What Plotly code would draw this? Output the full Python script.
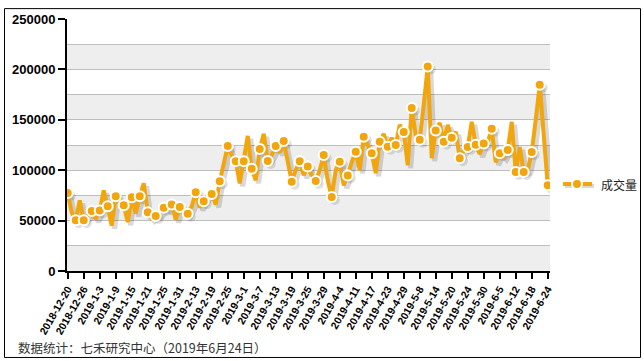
import pandas as pd
import plotly.graph_objects as go

# Trading days (Shanghai/Shenzhen calendar) between 2018-12-20 and 2019-06-24
holidays = ["2018-12-31", "2019-01-01", "2019-02-04", "2019-02-05", "2019-02-06",
            "2019-02-07", "2019-02-08", "2019-04-05", "2019-05-01", "2019-05-02",
            "2019-05-03", "2019-06-07"]
days = [d for d in pd.bdate_range("2018-12-20", "2019-06-24")
        if d.strftime("%Y-%m-%d") not in holidays]
dates = [f"{d.year}-{d.month}-{d.day}" for d in days]

volume = [
    77400, 58000, 50300, 70000, 50300, 55000, 59400, 51500, 60100, 80000,
    64300, 45000, 74200, 72000, 65300, 48500, 73200, 57000, 74200, 87000,
    58400, 52000, 54500, 57000, 62700, 61000, 66000, 51000, 63400, 60000,
    56800, 64000, 78100, 63000, 69200, 75000, 76400, 66000, 89000, 105000,
    124000, 115000, 109000, 87000, 109000, 134000, 101500, 90000, 121000, 136000,
    109200, 115000, 124000, 118000, 128900, 110000, 88600, 100000, 108800, 95000,
    103600, 95000, 89200, 100000, 115000, 90000, 73400, 100000, 108500, 85000,
    94800, 108000, 118400, 100000, 133100, 125000, 116700, 97000, 128200, 136000,
    123300, 132000, 125000, 145000, 138000, 105000, 161600, 135000, 130200, 165000,
    202800, 112000, 139300, 147000, 128200, 145000, 132100, 138000, 111800, 120000,
    123000, 148000, 125200, 116000, 126500, 128000, 141000, 108000, 116700, 113000,
    120000, 148000, 98300, 123000, 98300, 100000, 118000, 150000, 184800, 135000,
    85000,
]

series_name = "成交量"
tick_labels = dates[::4]
marker_dates = dates[::2]
marker_values = volume[::2]

y_max = 250000
y_major = 50000
y_minor = 25000

COLOR = "#F2A60D"
W, H = 644, 361
ML, MR, MT, MB = 67, 94, 16, 90
PW, PH = W - ML - MR, H - MT - MB

r0 = -0.18
r1 = r0 + PW / 4.0
xrange_main = [r0, r1]
# shadow offset: 3px right, 3px down
dx = 3 / (PW / (r1 - r0))
dy = 3 * y_max / PH

fig = go.Figure()

# invisible trace to set up the main axes
fig.add_trace(go.Scatter(x=dates, y=volume, mode="lines", line=dict(width=0),
                         hoverinfo="skip", showlegend=False, xaxis="x", yaxis="y"))

# shadow
fig.add_trace(go.Scatter(x=dates, y=volume, mode="lines",
                         line=dict(color="rgba(0,0,0,0.15)", width=5),
                         hoverinfo="skip", showlegend=False, xaxis="x2", yaxis="y2"))
fig.add_trace(go.Scatter(x=marker_dates, y=marker_values, mode="markers",
                         marker=dict(color="rgba(0,0,0,0.12)", size=10),
                         hoverinfo="skip", showlegend=False, xaxis="x2", yaxis="y2"))

# main line
fig.add_trace(go.Scatter(x=dates, y=volume, mode="lines", name=series_name,
                         line=dict(color=COLOR, width=4),
                         showlegend=False, xaxis="x3", yaxis="y3"))
fig.add_trace(go.Scatter(x=marker_dates, y=marker_values, mode="markers", name=series_name,
                         marker=dict(color=COLOR, size=10, line=dict(color="white", width=2)),
                         showlegend=False, xaxis="x3", yaxis="y3"))

# alternating bands
shapes = []
v = 0
k = 0
while v < y_max:
    if k % 2 == 0:
        shapes.append(dict(type="rect", xref="paper", yref="y", x0=0, x1=1,
                           y0=v, y1=v + y_minor, fillcolor="#EEEEEE",
                           line=dict(width=0), layer="below"))
    v += y_minor
    k += 1


def px_x(p):
    return (p - ML) / PW


def px_y(p):
    return (H - MB - p) / PH


# outer border
shapes.append(dict(type="rect", xref="paper", yref="paper",
                   x0=px_x(4.5), x1=px_x(640.5), y0=px_y(358.5), y1=px_y(5.5),
                   line=dict(color="black", width=1), fillcolor="rgba(0,0,0,0)"))

# legend key (line + marker) drawn in the right margin
LEG_Y = 183
shapes.append(dict(type="line", xref="paper", yref="paper",
                   x0=px_x(565), x1=px_x(594), y0=px_y(LEG_Y + 2), y1=px_y(LEG_Y + 2),
                   line=dict(color="rgba(0,0,0,0.15)", width=4)))
shapes.append(dict(type="line", xref="paper", yref="paper",
                   x0=px_x(563), x1=px_x(592), y0=px_y(LEG_Y), y1=px_y(LEG_Y),
                   line=dict(color=COLOR, width=4)))
shapes.append(dict(type="circle", xref="paper", yref="paper",
                   x0=px_x(572), x1=px_x(582), y0=px_y(LEG_Y + 5), y1=px_y(LEG_Y - 5),
                   fillcolor=COLOR, line=dict(color="white", width=2)))

tickfont_bold = dict(family="Liberation Sans, Arial, sans-serif", size=13,
                     color="black", weight="bold")

fig.update_layout(
    width=W, height=H,
    margin=dict(l=ML, r=MR, t=MT, b=MB),
    paper_bgcolor="white", plot_bgcolor="white",
    showlegend=False,
    shapes=shapes,
    xaxis=dict(type="category", range=xrange_main, showgrid=False,
               tickmode="array", tickvals=tick_labels, ticktext=tick_labels,
               tickangle=-60, ticks="outside", ticklen=6, tickwidth=2,
               tickcolor="black", showline=True, linecolor="black", linewidth=2,
               tickfont=dict(family="Liberation Sans, Arial, sans-serif", size=10.5,
                             color="black", weight="bold"),
               fixedrange=True),
    yaxis=dict(range=[0, y_max], dtick=y_major, tick0=0, showgrid=True,
               gridcolor="#BEBEBE", gridwidth=1, zeroline=False,
               minor=dict(dtick=y_minor, showgrid=True, gridcolor="#BEBEBE", gridwidth=1),
               ticks="outside", ticklen=7, tickwidth=2, tickcolor="black",
               showline=True, linecolor="black", linewidth=2,
               tickfont=tickfont_bold, tickformat="d", fixedrange=True),
    xaxis2=dict(type="category", overlaying="x", range=[r0 - dx, r1 - dx], visible=False),
    yaxis2=dict(overlaying="y", range=[dy, y_max + dy], visible=False),
    xaxis3=dict(type="category", overlaying="x", range=xrange_main, visible=False),
    yaxis3=dict(overlaying="y", range=[0, y_max], visible=False),
    annotations=[
        dict(text=series_name, xref="paper", yref="paper", x=px_x(599), y=px_y(LEG_Y),
             xanchor="left", yanchor="middle", showarrow=False,
             font=dict(family="Noto Sans CJK SC, sans-serif", size=12, color="#222222")),
        dict(text="数据统计：七禾研究中心（2019年6月24日）",
             xref="paper", yref="paper", x=px_x(16), y=px_y(348),
             xanchor="left", yanchor="middle", showarrow=False,
             font=dict(family="Noto Sans CJK SC, sans-serif", size=12.5, color="#333333")),
    ],
)

fig.write_html("out.html", config={"displayModeBar": False},
               post_script="document.body.style.margin='0';")
